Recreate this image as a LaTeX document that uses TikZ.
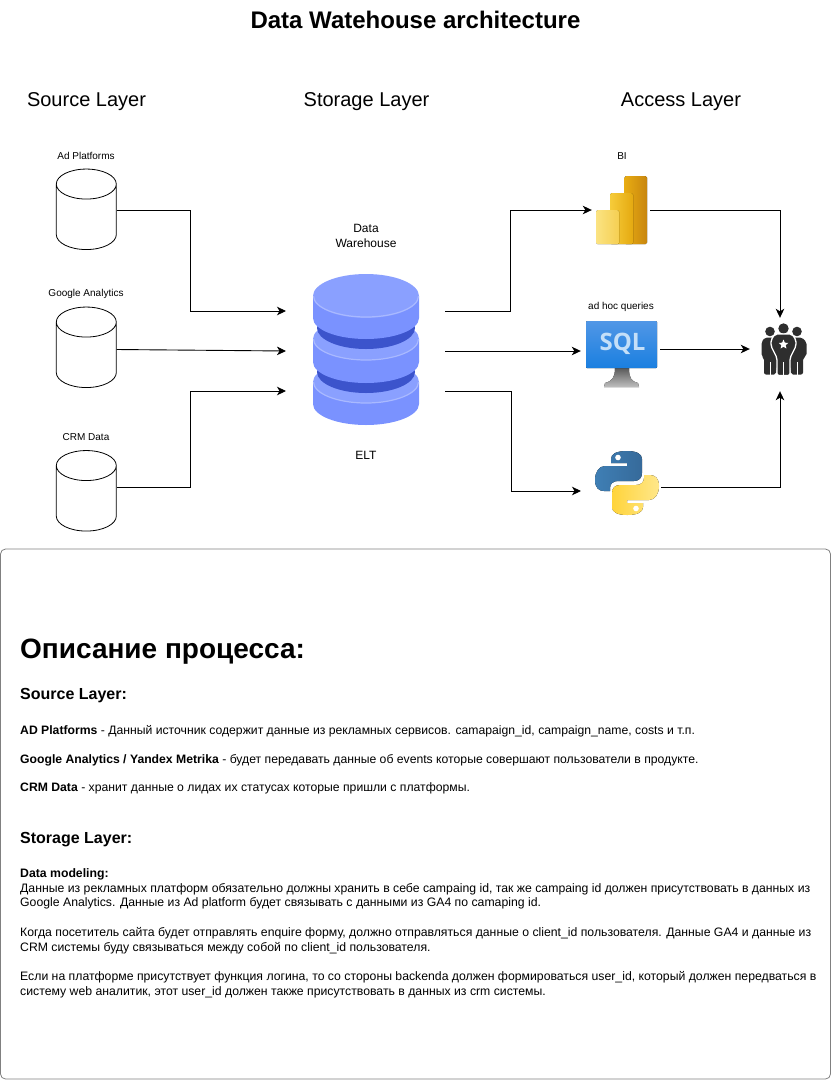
\documentclass[tikz,border=0pt]{standalone}
\usepackage{fontspec}
\setmainfont{Liberation Sans}
\newfontfamily\sqlfont{Open Sans}
\usetikzlibrary{arrows.meta,shapes.geometric}

\newcommand{\fsize}[1]{\fontsize{#1}{#1}\selectfont}
% one half of the python logo, the other half is the same path turned round
\newcommand{\snakepath}{(611,463) -- (627,463) -- (627,466) -- (605,466) .. controls (599,466) and (595,472) .. (595,480) .. controls (595,488) and (599,491) .. (604,491) -- (610,491) -- (610,488) .. controls (610,484) and (613,481) .. (618,481) -- (634,481) .. controls (639,481) and (642,478) .. (642,473) -- (642,459) .. controls (642,454) and (637,451) .. (627,451) .. controls (616,451) and (611,454) .. (611,459) -- cycle}
% node plus outline of a source cylinder
\newcommand{\sourcedb}[2]{%
    \node[cylbox] (#1) at (#2) {};
    \draw[cylline] (#1.north west) ++(0,15) arc (180:-180:30 and -15) -- ++(0,50.5) arc (180:360:30 and -15) -- ++(0,-50.5);
}

\definecolor{diskside}{HTML}{7A92FF}
\definecolor{disktop}{HTML}{8AA0FF}
\definecolor{diskrim}{HTML}{A9B9FF}
\definecolor{diskband}{HTML}{3C54CC}
\definecolor{manfill}{HTML}{2E2E2E}
\definecolor{biA}{HTML}{E8AC12}
\definecolor{biB}{HTML}{C8860F}
\definecolor{biC}{HTML}{F6CC3A}
\definecolor{biD}{HTML}{E5A910}
\definecolor{biE}{HTML}{FBE382}
\definecolor{biF}{HTML}{F5CF52}
\definecolor{sqltop}{HTML}{5197E6}
\definecolor{sqlbot}{HTML}{1A7FE0}
\definecolor{sqltxt}{HTML}{C4DFF8}
\definecolor{pyblueA}{HTML}{3F7FB5}
\definecolor{pyblueB}{HTML}{366A9A}
\definecolor{pyyelA}{HTML}{FFD43B}
\definecolor{pyyelB}{HTML}{FFE78A}

\tikzset{
    titlelabel/.style={font=\fsize{24}\bfseries},
    layerlabel/.style={font=\fsize{20}},
    smalllabel/.style={font=\fsize{10}},
    midlabel/.style={font=\fsize{12},align=center},
    cylbox/.style={inner sep=0pt,minimum width=60pt,minimum height=80.5pt},
    cylline/.style={line width=0.8pt},
    iconbox/.style={inner sep=0pt,minimum height=60pt},
    flowline/.style={draw,line width=0.9pt,-{Stealth[length=9pt,width=8.5pt,inset=2.5pt]}},
    panelbox/.style={draw=black!50,rounded corners=5pt,line width=0.8pt,minimum width=830pt,minimum height=530pt,inner sep=0pt},
    headtext/.style={anchor=base west,inner sep=0pt},
    bodytext/.style={anchor=north west,inner sep=0pt,align=left,font=\fontsize{12.25}{14.7}\selectfont},
    linetext/.style={bodytext,font=\fontsize{12.2}{14.7}\selectfont},
    manbody/.style={fill=manfill,rounded corners=2pt},
}

\begin{document}
\begin{tikzpicture}[x=1pt,y=-1pt]
    \useasboundingbox (0,0) rectangle (831,1080);

    % Title and layer names
    \node[titlelabel] (title) at (415.5,20) {Data Watehouse architecture};
    \node[layerlabel] (sourcelayer) at (86.5,102) {Source Layer};
    \node[layerlabel] (storagelayer) at (366.5,102) {Storage Layer};
    \node[layerlabel] (accesslayer) at (681,102) {Access Layer};

    % Sources
    \sourcedb{adcyl}{86.5,209.5}
    \sourcedb{gacyl}{86.5,347.5}
    \sourcedb{crmcyl}{86.5,491}
    \node[smalllabel] (adlabel) at (86,156) {Ad Platforms};
    \node[smalllabel] (galabel) at (86,293.5) {Google Analytics};
    \node[smalllabel] (crmlabel) at (86,437) {CRM Data};

    % Warehouse disks, painted from the bottom up
    \fill[diskside] (313,382) -- (313,404) arc (180:360:53 and -21) -- (419,382) -- cycle;
    \fill[disktop] (366,382) ellipse (53 and 21);
    \draw[diskrim,line width=1.2pt] (313.5,382) arc (180:360:52.5 and -21);
    \fill[diskband] (366,372) ellipse (49 and 21);
    \fill[diskside] (313,339) -- (313,362) arc (180:360:53 and -21) -- (419,339) -- cycle;
    \fill[disktop] (366,339) ellipse (53 and 21);
    \draw[diskrim,line width=1.2pt] (313.5,339) arc (180:360:52.5 and -21);
    \fill[diskband] (366,328) ellipse (49 and 21);
    \fill[diskside] (313,296) -- (313,318) arc (180:360:53 and -21) -- (419,296) -- cycle;
    \fill[disktop] (366,296) ellipse (53 and 22);
    \draw[diskrim,line width=1.2pt] (313.5,296) arc (180:360:52.5 and -21);
    \node[midlabel] (dwhlabel) at (366,236) {Data\\[2.5pt]Warehouse};
    \node[midlabel] (eltlabel) at (366,455) {ELT};
    \coordinate (dwhin1) at (286,311);
    \coordinate (dwhin2) at (286,351);
    \coordinate (dwhin3) at (286,391);
    \coordinate (dwhout1) at (445,311);
    \coordinate (dwhout2) at (445,351);
    \coordinate (dwhout3) at (445,391);

    % BI bars
    \node[iconbox,minimum width=58pt] (bi) at (621,210) {};
    \fill[left color=biA,right color=biB,rounded corners=1.5pt] (624.5,176) rectangle (647,244);
    \fill[left color=biC,right color=biD,rounded corners=1.5pt] (610,193) rectangle (633,244);
    \fill[left color=biE,right color=biF,rounded corners=1.5pt] (596,210) rectangle (619,244);
    \node[smalllabel] (bilabel) at (622,156) {BI};

    % SQL monitor
    \node[iconbox,minimum width=79pt] (sql) at (620.5,349) {};
    \fill[top color=black!65,bottom color=black!25] (615,368) -- (629,368) .. controls (629,378) and (631,381) .. (638,383) -- (639,387) -- (604,387) -- (605,383) .. controls (612,381) and (615,378) .. (615,368) -- cycle;
    \fill[top color=sqltop,bottom color=sqlbot,rounded corners=1pt] (586,321) rectangle (657,368);
    \node[text=sqltxt,inner sep=0pt,font=\sqlfont\fsize{24}\bfseries] (sqltext) at (622.5,344) {SQL};
    \node[smalllabel] (sqllabel) at (621,307) {ad hoc queries};

    % Python logo
    \coordinate (pyin) at (581,491);
    \coordinate (pyout) at (661,487);
    \fill[left color=pyblueA,right color=pyblueB] \snakepath;
    \begin{scope}[rotate around={180:(627,483)}]
        \fill[left color=pyyelA,right color=pyyelB] \snakepath;
    \end{scope}
    \fill[white] (618,457.5) circle (2.8);
    \fill[white] (636,508.5) circle (2.8);

    % People
    \node[iconbox,minimum width=60pt,minimum height=73pt] (people) at (780,354.5) {};
    \fill[manfill] (770,331.5) circle (4.8);
    \fill[manfill] (797,331.5) circle (4.8);
    \fill[manbody] (765,337.5) -- (774,337.5) -- (774,345) -- (778,356) -- (776,374.5) -- (764,374.5) -- (764,358) -- (761.5,356) -- (761.5,342) -- cycle;
    \fill[manbody] (802,337.5) -- (793,337.5) -- (793,345) -- (789,356) -- (791,374.5) -- (803,374.5) -- (803,358) -- (806.5,356) -- (806.5,342) -- cycle;
    \fill[manfill] (783.5,328.5) circle (5.2);
    \draw[manbody,draw=white,line width=1.3pt] (775,334) -- (792,334) -- (796,340) -- (796,346) -- (790,358) -- (790,375.5) -- (777,375.5) -- (777,358) -- (771,346) -- (771,340) -- cycle;
    \node[star,star points=5,star point ratio=2.2,fill=white,minimum size=10pt,inner sep=0pt] (manstar) at (783.5,344.5) {};
    \draw[white,line width=0.6pt] (770,362) -- (770,375) (783.5,362) -- (783.5,375) (797,362) -- (797,375);

    % Connectors
    \draw[flowline] ([yshift=-0.7pt]adcyl.east) -- ++(73.5,0) |- (dwhin1);
    \draw[flowline] ([yshift=-2pt]gacyl.east) -- (dwhin2);
    \draw[flowline] ([yshift=3.5pt]crmcyl.east) -- ++(73.5,0) |- (dwhin3);
    \draw[flowline] (dwhout1) -- ++(65,0) |- (bi.west);
    \draw[flowline] (dwhout2) -- (sql.west |- dwhout2);
    \draw[flowline] (dwhout3) -- ++(66,0) |- (pyin);
    \draw[flowline] (bi.east) -| (people.north);
    \draw[flowline] (sql.east) -- (sql.east -| people.west);
    \draw[flowline] (pyout) -| (people.south);

    % Description panel
    \node[panelbox] (panel) at (415.5,814) {};
    \node[headtext,font=\fsize{28}\bfseries] (deschead) at (20,658) {Описание процесса:};
    \node[headtext,font=\fsize{16}\bfseries] (sourcehead) at (20,699) {Source Layer:};
    \node[linetext] (addesc) at (20,725.5) {\textbf{AD Platforms} - Данный источник содержит данные из рекламных сервисов. camapaign\_id, campaign\_name, costs и т.п.};
    \node[linetext] (gadesc) at (20,754) {\textbf{Google Analytics / Yandex Metrika} - будет передавать данные об events которые совершают пользователи в продукте.};
    \node[linetext] (crmdesc) at (20,782.5) {\textbf{CRM Data} - хранит данные о лидах их статусах которые пришли с платформы.};
    \node[headtext,font=\fsize{16}\bfseries] (storagehead) at (20,843) {Storage Layer:};
    \node[bodytext] (modeldesc) at (20,868.5) {\textbf{Data modeling:}\\
        Данные из рекламных платформ обязательно должны хранить в себе campaing id, так же campaing id должен присутствовать в данных из\\
        Google Analytics. Данные из Ad platform будет связывать с данными из GA4 по camaping id.\\[14.7pt]
        Когда посетитель сайта будет отправлять enquire форму, должно отправляться данные о client\_id пользователя. Данные GA4 и данные из\\
        CRM системы буду связываться между собой по client\_id пользователя.\\[14.7pt]
        Если на платформе присутствует функция логина, то со стороны backenda должен формироваться user\_id, который должен передваться в\\
        систему web аналитик, этот user\_id должен также присутствовать в данных из crm системы.};
\end{tikzpicture}
\end{document}
